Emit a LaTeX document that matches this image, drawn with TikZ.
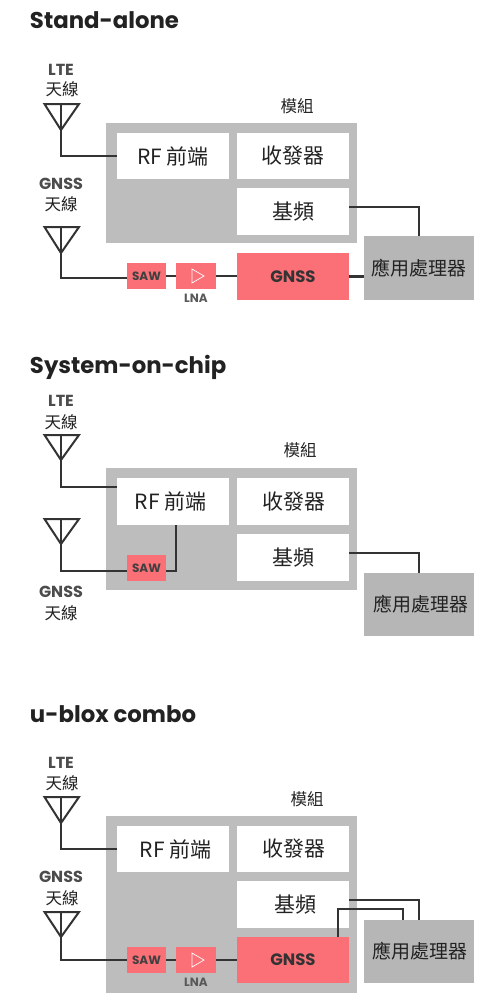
\documentclass[tikz,border=0pt]{standalone}
\usepackage{fontspec}
\setmainfont{Noto Sans CJK TC}
\newfontfamily\latinbold{Poppins}
\usetikzlibrary{calc}
\definecolor{modgray}{HTML}{BDBDBD}
\definecolor{appgray}{HTML}{B6B6B6}
\definecolor{pinkbox}{HTML}{FB6F77}
\definecolor{wire}{HTML}{333333}
\definecolor{ink}{HTML}{222222}
\tikzset{
  every node/.style={inner sep=0pt,outer sep=0pt,text=ink},
  modbox/.style={fill=modgray,rectangle},
  whitebox/.style={fill=white,rectangle,font=\fontsize{21}{21}\selectfont},
  pinkrect/.style={fill=pinkbox,rectangle},
  appbox/.style={fill=appgray,rectangle,font=\fontsize{19}{19}\selectfont},
  wireline/.style={draw=wire,line width=2.1pt,line join=miter},
  antline/.style={draw=wire,line width=2pt,line join=miter},
  titletext/.style={anchor=base west,font=\latinbold\bfseries\fontsize{22.8}{22.8}\selectfont},
  smallbold/.style={font=\latinbold\bfseries\fontsize{16}{16}\selectfont,text=black!70},
  boxbold/.style={font=\latinbold\bfseries\fontsize{16.5}{16.5}\selectfont,text=black!80},
  sawbold/.style={font=\latinbold\bfseries\fontsize{12}{12}\selectfont,text=black!75},
  lnabold/.style={font=\latinbold\bfseries\fontsize{12}{12}\selectfont,text=black!65},
  cjklabel/.style={font=\fontsize{16.5}{16.5}\selectfont},
}
% box from corner to corner: name, x1, y1, x2, y2, style, text
\newcommand{\pxbox}[7]{\node[#6,minimum width=#4pt-#2pt,minimum height=#5pt-#3pt,anchor=center] (#1) at ({(#2+#4)/2},{(#3+#5)/2}) {#7};}
% antenna: name, top y, apex y
\newcommand{\antennaglyph}[3]{%
  \coordinate (#1) at (61,#2);
  \coordinate (#1tip) at (61,#3);
  \draw[antline] (44.5,#2) -- (79,#2) -- (#1tip) -- cycle;
  \draw[antline] (#1) -- (#1tip);
}
\newcommand{\lnaglyph}[1]{\draw[white,line width=0.7pt] ($(#1)+(-4,-7)$) -- ($(#1)+(8,0)$) -- ($(#1)+(-4,7)$) -- cycle;}
\begin{document}
\begin{tikzpicture}[x=1pt,y=-1pt]
\useasboundingbox[fill=white] (0,0) rectangle (500,1005);

% ---------- Stand-alone
\node[titletext] (t1) at (30,28) {Stand-alone};
\node[smallbold] (l1a) at (61,70) {LTE};
\node[cjklabel] (l1b) at (62,89) {天線};
\node[smallbold] (l1c) at (61,184) {GNSS};
\node[cjklabel] (l1d) at (61,204) {天線};
\node[cjklabel] (m1) at (297,106) {模組};
\pxbox{mod1}{106}{123}{357}{243}{modbox}{}
\pxbox{rf1}{117}{133}{229}{179}{whitebox}{RF 前端}
\pxbox{tr1}{237}{133}{349}{179}{whitebox}{收發器}
\pxbox{bb1}{237}{188}{349}{235}{whitebox}{基頻}
\pxbox{app1}{364}{236}{474}{300}{appbox}{應用處理器}
\pxbox{saw1}{127}{263}{166}{289}{pinkrect,sawbold}{SAW}
\pxbox{lna1}{176}{263}{216}{289}{pinkrect}{}
\pxbox{gn1}{237}{253}{349}{300}{pinkrect,boxbold}{GNSS}
\lnaglyph{lna1}
\node[lnabold] (ll1) at (196,298) {LNA};
\antennaglyph{a1}{104}{130}
\antennaglyph{b1}{227}{253}
\draw[wireline] (a1tip) |- (rf1.west);
\draw[wireline] (b1tip) |- ([yshift=-2pt]saw1.west);
\draw[wireline] (saw1.east) -- (lna1.west);
\draw[wireline] (lna1.east) -- (lna1.east -| gn1.west);
\draw[wireline] (gn1.east) -- (gn1.east -| app1.west);
\draw[wireline] ([yshift=4.5pt]bb1.east) -| (app1.north);

% ---------- System-on-chip
\node[titletext] (t2) at (30,373) {System-on-chip};
\node[smallbold] (l2a) at (61,401) {LTE};
\node[cjklabel] (l2b) at (61,422) {天線};
\node[cjklabel] (m2) at (300,450) {模組};
\node[smallbold] (l2c) at (61,592) {GNSS};
\node[cjklabel] (l2d) at (61,613) {天線};
\pxbox{mod2}{106}{468}{357}{590}{modbox}{}
\pxbox{rf2}{117}{478}{229}{525}{whitebox}{\hspace*{-5pt}RF 前端}
\pxbox{tr2}{237}{478}{349}{525}{whitebox}{\hspace*{2pt}收發器}
\pxbox{bb2}{237}{534}{349}{581}{whitebox}{基頻}
\pxbox{app2}{364}{573}{474}{636}{appbox}{\hspace*{4pt}應用處理器}
\pxbox{saw2}{127}{555}{166}{581}{pinkrect,sawbold}{SAW}
\antennaglyph{a2}{435}{460}
\antennaglyph{b2}{519}{544}
\draw[wireline] (a2tip) -- (a2tip |- 0,487) -- (0,487 -| rf2.west);
\draw[wireline] (b2tip) |- ([yshift=-3pt]saw2.west);
\draw[wireline] ([yshift=-3pt]saw2.east) -- ++(10,0) -- ([xshift=10pt]saw2.east |- rf2.south);
\draw[wireline] ([yshift=4.5pt]bb2.east) -| (app2.north);

% ---------- u-blox combo
\node[titletext] (t3) at (30,722) {u-blox combo};
\node[smallbold] (l3a) at (61,763) {LTE};
\node[cjklabel] (l3b) at (62,783) {天線};
\node[smallbold] (l3c) at (61,877) {GNSS};
\node[cjklabel] (l3d) at (62,898) {天線};
\node[cjklabel] (m3) at (307,799) {模組};
\pxbox{mod3}{106}{816}{357}{993}{modbox}{}
\pxbox{rf3}{117}{826}{229}{872}{whitebox}{\hspace*{5pt}RF 前端}
\pxbox{tr3}{237}{826}{349}{872}{whitebox}{\hspace*{2pt}收發器}
\pxbox{bb3}{237}{881}{349}{928}{whitebox}{\hspace*{4pt}基頻}
\pxbox{app3}{364}{920}{474}{983}{appbox}{\hspace*{2pt}應用處理器}
\pxbox{saw3}{127}{947}{166}{973}{pinkrect,sawbold}{SAW}
\pxbox{lna3}{176}{947}{216}{973}{pinkrect}{}
\pxbox{gn3}{237}{937}{349}{983}{pinkrect,boxbold}{GNSS}
\lnaglyph{lna3}
\node[lnabold] (ll3) at (196,982) {LNA};
\antennaglyph{a3}{797}{823}
\antennaglyph{b3}{912}{937}
\draw[wireline] (a3tip) |- (rf3.west);
\draw[wireline] (b3tip) |- (saw3.west);
\draw[wireline] (saw3.east) -- (lna3.west);
\draw[wireline] (lna3.east) -- (lna3.east -| gn3.west);
\draw[wireline] ([yshift=4.5pt]bb3.east) -| (app3.north);
\draw[wireline] ([xshift=45pt]gn3.north) |- ++(65,-28) -- ([xshift=-16pt]app3.north);
\end{tikzpicture}
\end{document}
